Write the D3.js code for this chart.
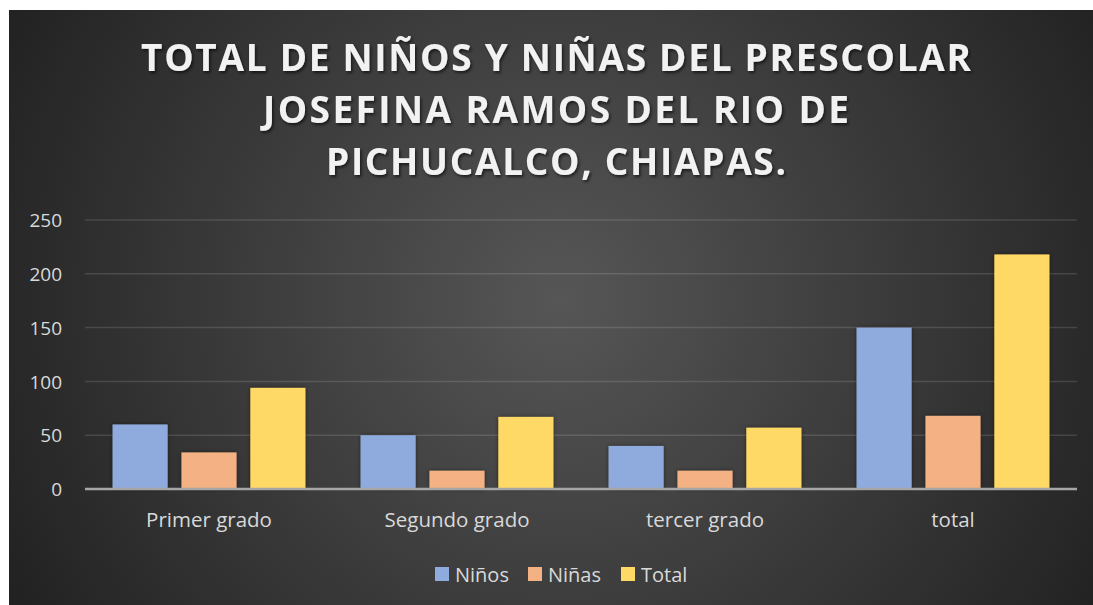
<!DOCTYPE html>
<html>
<head>
<meta charset="utf-8">
<script src="https://cdn.jsdelivr.net/npm/d3@7"></script>
<style>
  html, body { margin: 0; padding: 0; background: #fff; }
  svg { display: block; }
</style>
</head>
<body>
<script>
// chart data
const categories = ["Primer grado", "Segundo grado", "tercer grado", "total"];
const seriesNames = ["Niños", "Niñas", "Total"];
const ninos = [60, 50, 40, 150];
const ninas = [34, 17, 17, 68];
const totals = [94, 67, 57, 218];
const yTicks = [0, 50, 100, 150, 200, 250];
const titleLines = [
  "TOTAL DE NIÑOS Y NIÑAS DEL PRESCOLAR",
  "JOSEFINA RAMOS DEL RIO DE",
  "PICHUCALCO, CHIAPAS."
];

const colors = ["#8faadc", "#f4b183", "#ffd966"];
const seriesValues = [ninos, ninas, totals];

const width = 1093, height = 605;
const font = "'Open Sans', sans-serif";

const svg = d3.select("body").append("svg")
    .attr("width", width)
    .attr("height", height);

const defs = svg.append("defs");
const grad = defs.append("radialGradient")
    .attr("id", "bg")
    .attr("gradientUnits", "userSpaceOnUse")
    .attr("cx", 560).attr("cy", 300).attr("r", 620);
grad.append("stop").attr("offset", "0%").attr("stop-color", "#565656");
grad.append("stop").attr("offset", "100%").attr("stop-color", "#222222");

const shadow = defs.append("filter").attr("id", "tshadow")
    .attr("x", "-10%").attr("y", "-30%").attr("width", "120%").attr("height", "160%");
shadow.append("feDropShadow")
    .attr("dx", 1.5).attr("dy", 2).attr("stdDeviation", 1.5)
    .attr("flood-color", "#000").attr("flood-opacity", 0.6);

const barShadow = defs.append("filter").attr("id", "bshadow")
    .attr("x", "-20%").attr("y", "-20%").attr("width", "140%").attr("height", "140%");
barShadow.append("feDropShadow")
    .attr("dx", 0).attr("dy", 0).attr("stdDeviation", 2)
    .attr("flood-color", "#000").attr("flood-opacity", 0.45);

svg.append("rect")
    .attr("x", 9).attr("y", 10)
    .attr("width", width - 9).attr("height", height - 10)
    .attr("fill", "url(#bg)");

// title
const titleWidths = [830, 586, 460];
svg.append("g")
    .attr("filter", "url(#tshadow)")
  .selectAll("text")
  .data(titleLines)
  .join("text")
    .attr("x", 556)
    .attr("y", (d, i) => 71 + i * 52)
    .attr("text-anchor", "middle")
    .attr("font-family", font)
    .attr("font-weight", 700)
    .attr("font-size", 37)
    .attr("fill", "#f2f2f2")
    .attr("textLength", (d, i) => titleWidths[i])
    .attr("lengthAdjust", "spacing")
    .text(d => d);

// scales
const x0 = d3.scaleBand()
    .domain(categories)
    .range([85, 1077])
    .paddingInner(0)
    .paddingOuter(0);

const y = d3.scaleLinear()
    .domain([0, 250])
    .range([489, 220]);

// bar sizes: gap width 100%, overlap -25%
const bw = x0.bandwidth() / 4.5;
const x1 = i => x0.bandwidth() / 2 - 1.5 * bw - 0.25 * bw + i * bw * 1.25;

// gridlines
svg.append("g")
  .selectAll("line")
  .data(yTicks.filter(t => t > 0))
  .join("line")
    .attr("x1", 85).attr("x2", 1077)
    .attr("y1", d => y(d)).attr("y2", d => y(d))
    .attr("stroke", "#ffffff")
    .attr("stroke-opacity", 0.13)
    .attr("stroke-width", 1.5);

// y axis labels
const yAxis = d3.axisLeft(y).tickValues(yTicks).tickSize(0).tickPadding(0);
const yG = svg.append("g")
    .attr("transform", "translate(62,0)")
    .call(yAxis);
yG.select(".domain").remove();
yG.selectAll("text")
    .attr("font-family", font)
    .attr("font-size", 19)
    .attr("fill", "#d9d9d9")
    .attr("dy", "0.35em");

// bars
const groups = svg.append("g")
  .selectAll("g")
  .data(categories)
  .join("g")
    .attr("transform", d => `translate(${x0(d)},0)`);

groups.selectAll("rect")
  .data((d, ci) => seriesValues.map((vals, si) => ({ si, v: vals[ci] })))
  .join("rect")
    .attr("x", d => x1(d.si))
    .attr("width", bw)
    .attr("y", d => y(d.v))
    .attr("height", d => y(0) - y(d.v))
    .attr("fill", d => colors[d.si])
    .attr("filter", "url(#bshadow)");

// x axis line
svg.append("line")
    .attr("x1", 85).attr("x2", 1077)
    .attr("y1", y(0)).attr("y2", y(0))
    .attr("stroke", "#a6a6a6")
    .attr("stroke-width", 2.5);

// category labels
const xAxis = d3.axisBottom(x0).tickSize(0).tickPadding(0);
const xG = svg.append("g")
    .attr("transform", "translate(0,527)")
    .call(xAxis);
xG.select(".domain").remove();
xG.selectAll("text")
    .attr("font-family", font)
    .attr("font-size", 20.5)
    .attr("fill", "#d9d9d9")
    .attr("dy", 0);

// legend
const legendX = [435, 528, 621];
const legend = svg.append("g")
  .selectAll("g")
  .data(seriesNames)
  .join("g")
    .attr("transform", (d, i) => `translate(${legendX[i]},567)`);
legend.append("rect")
    .attr("width", 14).attr("height", 14)
    .attr("fill", (d, i) => colors[i]);
legend.append("text")
    .attr("x", 20).attr("y", 14.5)
    .attr("font-family", font)
    .attr("font-size", 20)
    .attr("fill", "#d9d9d9")
    .text(d => d);
</script>
</body>
</html>
